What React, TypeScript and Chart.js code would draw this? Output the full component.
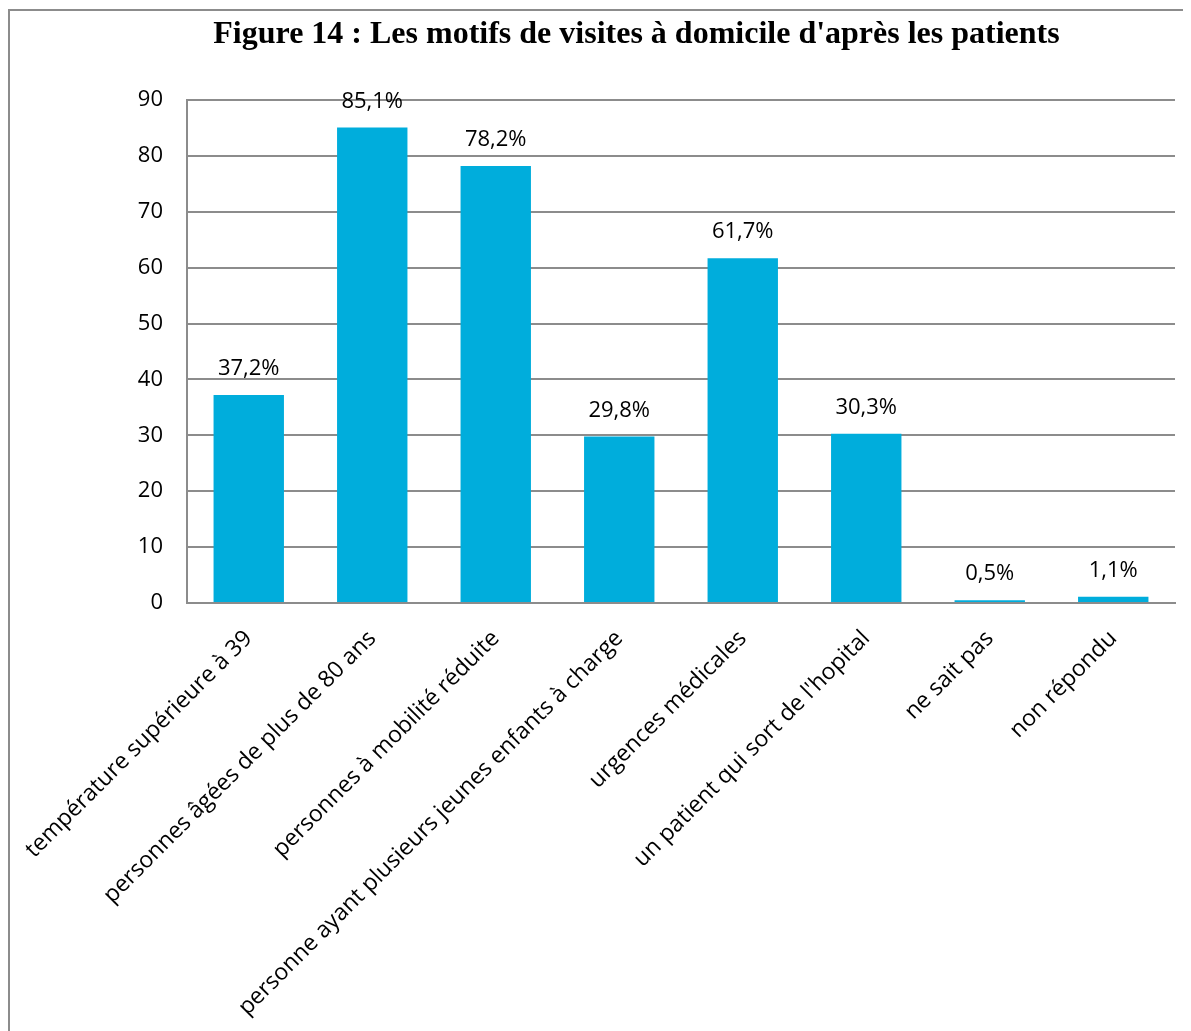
import React, { useEffect, useRef } from "react";
import { Chart, registerables } from "chart.js";

Chart.register(...registerables);

const TITLE = "Figure 14 : Les motifs de visites à domicile d'après les patients";
const categories = [
  "température supérieure à 39",
  "personnes âgées de plus de 80 ans",
  "personnes à mobilité réduite",
  "personne ayant plusieurs jeunes enfants à charge",
  "urgences médicales",
  "un patient qui sort de l'hopital",
  "ne sait pas",
  "non répondu",
];
const values = [37.2, 85.1, 78.2, 29.8, 61.7, 30.3, 0.5, 1.1];
const valueLabels = ["37,2%", "85,1%", "78,2%", "29,8%", "61,7%", "30,3%", "0,5%", "1,1%"];
const yTicks = [0, 10, 20, 30, 40, 50, 60, 70, 80, 90];

const FONT = "'Open Sans', 'Liberation Sans', sans-serif";

const valueLabelPlugin = {
  id: "valueLabels",
  afterDatasetsDraw(chart: any) {
    const ctx = chart.ctx;
    const meta = chart.getDatasetMeta(0);
    ctx.save();
    ctx.font = `22px ${FONT}`;
    ctx.fillStyle = "#000000";
    ctx.textAlign = "center";
    ctx.textBaseline = "middle";
    meta.data.forEach((bar: any, i: number) => {
      ctx.fillText(valueLabels[i], bar.x, bar.y - 26);
    });
    ctx.restore();
  },
};

export default function App() {
  const ref = useRef<HTMLCanvasElement | null>(null);
  useEffect(() => {
    if (!ref.current) return;
    const chart = new Chart(ref.current, {
      type: "bar",
      data: {
        labels: categories,
        datasets: [
          {
            data: values,
            backgroundColor: "#00ADDC",
            borderWidth: 0,
            barPercentage: 0.57,
            categoryPercentage: 1,
          },
        ],
      },
      options: {
        animation: false,
        responsive: false,
        devicePixelRatio: 1,
        layout: { padding: { left: 88, right: 14, top: 0, bottom: 0 } },
        plugins: {
          legend: { display: false },
          tooltip: { enabled: false },
          title: {
            display: true,
            text: TITLE,
            color: "#000000",
            font: { family: "'Liberation Serif', 'Times New Roman', serif", size: 32, weight: "bold" },
            padding: { top: 4, bottom: 45.6 },
          },
        },
        scales: {
          x: {
            grid: { display: false, drawTicks: false },
            border: { display: true, color: "#8c8c8c", width: 2 },
            ticks: {
              color: "#000000",
              font: { family: FONT, size: 23 },
              minRotation: 45,
              maxRotation: 45,
              autoSkip: false,
              padding: 22,
            },
            afterFit(scale: any) {
              scale.height = 428;
              scale.paddingLeft = 0;
              scale.paddingRight = 0;
            },
          },
          y: {
            min: 0,
            max: 90,
            afterBuildTicks(scale: any) {
              scale.ticks = yTicks.map((v) => ({ value: v }));
            },
            grid: { color: "#8c8c8c", lineWidth: 2, drawTicks: false },
            border: { display: true, color: "#8c8c8c", width: 2 },
            ticks: {
              color: "#000000",
              font: { family: FONT, size: 22 },
              padding: 24,
            },
            afterFit(scale: any) {
              scale.width = 89;
            },
          },
        },
      },
      plugins: [valueLabelPlugin],
    });
    return () => chart.destroy();
  }, []);

  return (
    <div
      style={{
        position: "relative",
        marginTop: 1,
        width: 1183,
        height: 1022,
        borderLeft: "2px solid #8c8c8c",
        borderTop: "2px solid #8c8c8c",
        boxSizing: "border-box",
        background: "#ffffff",
      }}
    >
      <canvas ref={ref} width={1179} height={1019} style={{ display: "block", position: "absolute", left: 0, top: 1 }} />
    </div>
  );
}
